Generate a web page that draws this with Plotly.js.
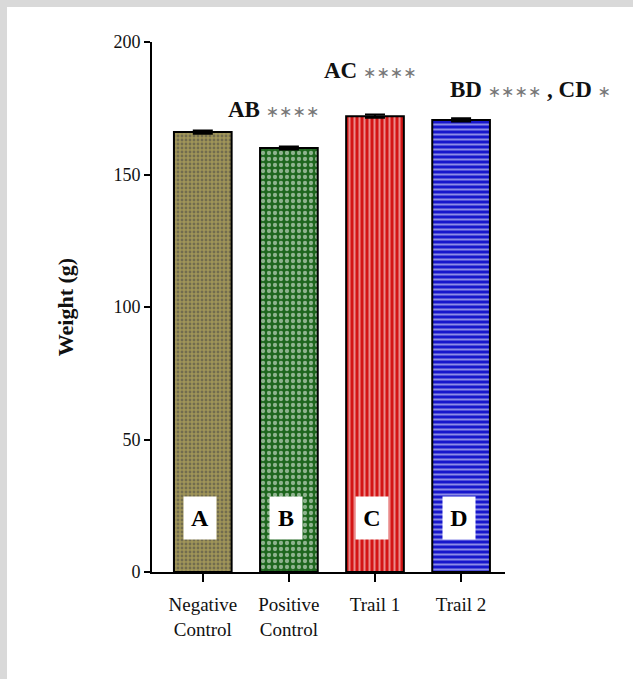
<!DOCTYPE html>
<html>
<head>
<meta charset="utf-8">
<script src="https://cdn.plot.ly/plotly-3.0.1.min.js"></script>
<style>
  html, body { margin:0; padding:0; background:#d9d9d9; width:633px; height:679px; overflow:hidden; }
  #chart { position:absolute; left:7px; top:7px; width:626px; height:672px; background:#fff; }
</style>
</head>
<body>
<div id="chart"></div>
<script>
const categories = ["Negative<br>Control", "Positive<br>Control", "Trail 1", "Trail 2"];
const weights = [166, 160, 172, 170.6];
const errors = [0.6, 0.6, 0.6, 0.6];
const groupLetters = ["A", "B", "C", "D"];
const bgColors = ["#a09558", "#1e661e", "#d41414", "#1616cc"];
const fgColors = ["#3b3520", "#4fb04f", "#9a0000", "#0000a0"];
const patternShapes = [".", ".", "|", "-"];
const patternSizes = [4, 6, 5, 5];
const sigLabels = [
  {pair: "AB", stars: "∗∗∗∗", px: 0.343, py: 0.872},
  {pair: "AC", stars: "∗∗∗∗", px: 0.620, py: 0.947},
  {pair: "BD", stars: "∗∗∗∗", pair2: "CD", stars2: "∗", px: 1.071, py: 0.911}
];

const starSpan = s => "<span style='font-family:DejaVu Sans;font-size:16px;color:#777'>" + s + "</span>";

const trace = {
  type: "bar",
  x: [0, 1, 2, 3],
  y: weights,
  width: 0.67,
  marker: {
    color: bgColors,
    line: {color: "#000", width: 2},
    pattern: {shape: patternShapes, fgcolor: fgColors, bgcolor: bgColors, size: patternSizes, solidity: 0.4, fillmode: "overlay"}
  },
  error_y: {type: "data", array: errors, visible: true, color: "#000", thickness: 2, width: 10},
  hoverinfo: "skip"
};

const annotations = [];
groupLetters.forEach((l, i) => {
  annotations.push({
    x: i - 0.03, y: 20.4, xref: "x", yref: "y", text: "<b>" + l + "</b>", showarrow: false,
    font: {family: "Liberation Serif", size: 24, color: "#000"},
    bgcolor: "#fff", borderpad: 6, width: 20, height: 30, xanchor: "center", yanchor: "middle"
  });
});
sigLabels.forEach(s => {
  let t = "<b>" + s.pair + "</b> " + starSpan(s.stars);
  if (s.pair2) t += " <b>,</b> <b>" + s.pair2 + "</b> " + starSpan(s.stars2);
  annotations.push({
    x: s.px, y: s.py, xref: "paper", yref: "paper", text: t, showarrow: false,
    font: {family: "Liberation Serif", size: 23, color: "#111"},
    xanchor: "center", yanchor: "middle"
  });
});

const layout = {
  width: 626, height: 672,
  margin: {l: 145, r: 128, t: 35, b: 107},
  paper_bgcolor: "#fff", plot_bgcolor: "#fff",
  showlegend: false,
  font: {family: "Liberation Serif", color: "#111"},
  xaxis: {
    range: [-0.59, 3.51], tickmode: "array", tickvals: [0, 1, 2, 3], ticktext: categories,
    showline: true, linecolor: "#000", linewidth: 2, ticks: "outside", ticklen: 8, tickwidth: 2, tickcolor: "#000",
    ticklabelstandoff: 6,
    showgrid: false, zeroline: false, tickfont: {family: "Liberation Serif", size: 19, color: "#111"}
  },
  yaxis: {
    range: [0, 200], tickvals: [0, 50, 100, 150, 200],
    showline: true, linecolor: "#000", linewidth: 2, ticks: "outside", ticklen: 6, tickwidth: 2, tickcolor: "#000",
    showgrid: false, zeroline: false, tickfont: {family: "Liberation Serif", size: 18, color: "#111"},
    title: {text: "<b>Weight (g)</b>", font: {family: "Liberation Serif", size: 22, color: "#111"}, standoff: 34}
  },
  annotations: annotations
};

Plotly.newPlot("chart", [trace], layout, {displayModeBar: false, staticPlot: true});
</script>
</body>
</html>
